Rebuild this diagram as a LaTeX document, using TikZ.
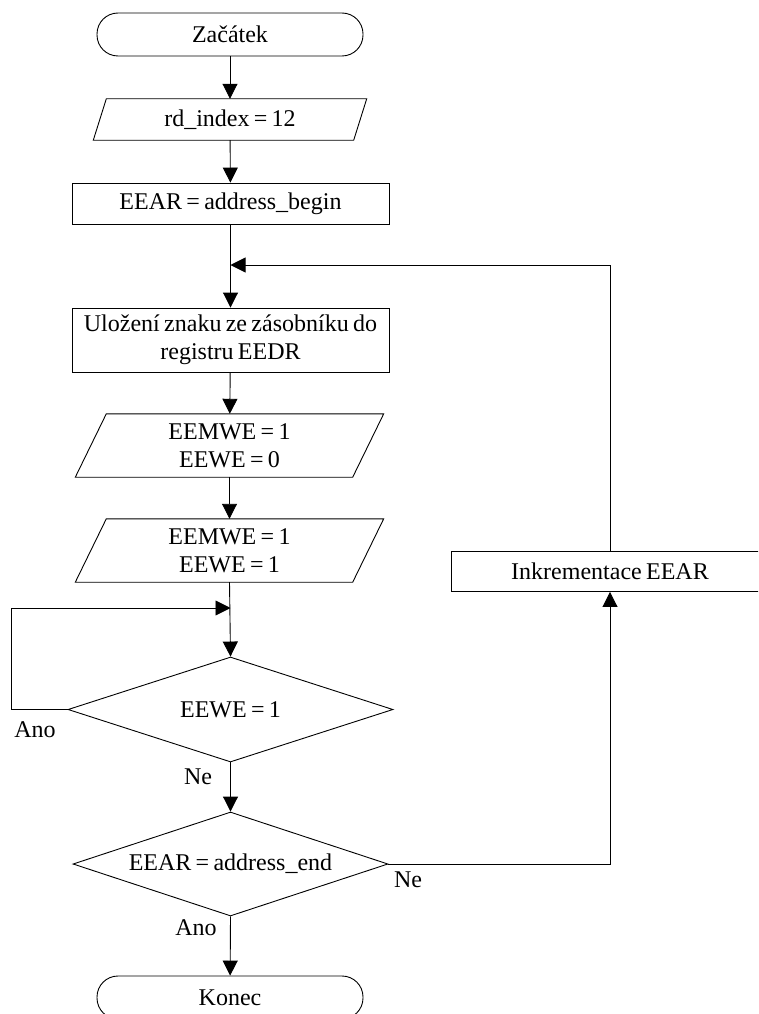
\documentclass[tikz,border=0pt]{standalone}
\usepackage{fontspec}
\setmainfont{Liberation Serif}
\usetikzlibrary{arrows.meta,calc,shapes.geometric}
\newcommand\flowfont{\fontsize{24}{28}\selectfont\spaceskip=0.18em plus 0.05em minus 0.02em\relax}
\begin{document}
\begin{tikzpicture}[x=1pt,y=-1pt,
  every node/.style={font=\flowfont, inner sep=0pt, align=center},
  line/.style={line width=0.9pt},
  arr/.style={line width=0.9pt,-{Triangle[length=15pt,width=15pt]}},
  term/.style={draw,line width=0.9pt,rounded corners=21pt,minimum width=266pt,minimum height=43pt},
  proc/.style={draw,line width=0.9pt,minimum width=317pt},
  dec/.style={draw,line width=0.9pt,shape=diamond,aspect=3}]
\useasboundingbox (0,0) rectangle (758,1014);
\clip (0,0) rectangle (758,1014);

% nodes
\node[term] (start) at (230,34.5) {Začátek};
\node[minimum width=260pt,minimum height=41pt] (rd) at (230,119.5) {rd\_index = 12};
\node[proc,minimum height=41pt] (eear) at (230.5,203.5) {EEAR = address\_begin};
\node[proc,minimum height=64pt] (ulo) at (230.5,340) {Uložení znaku ze zásobníku do\\registru EEDR};
\node[minimum width=277pt,minimum height=63pt] (p1) at (229.5,445.5) {EEMWE = 1\\EEWE = 0};
\node[minimum width=277pt,minimum height=63pt] (p2) at (229.5,550.5) {EEMWE = 1\\EEWE = 1};
\node[dec,minimum width=325pt,minimum height=105pt] (d1) at (230.5,709.5) {EEWE = 1};
\node[dec,minimum width=315pt,minimum height=104pt] (d2) at (230.5,864) {EEAR = address\_end};
\node[term] (end) at (230,997.5) {Konec};
\node[proc,minimum height=40pt] (ink) at (610,571.5) {Inkrementace EEAR};

% parallelogram outlines
\draw[line] ($(rd.south west)+(-6.5,0)$) -- ($(rd.north west)+(6.5,0)$) -- ($(rd.north east)+(6.5,0)$) -- ($(rd.south east)+(-6.5,0)$) -- cycle;
\draw[line] ($(p1.south west)+(-15.5,0)$) -- ($(p1.north west)+(15.5,0)$) -- ($(p1.north east)+(15.5,0)$) -- ($(p1.south east)+(-15.5,0)$) -- cycle;
\draw[line] ($(p2.south west)+(-15.5,0)$) -- ($(p2.north west)+(15.5,0)$) -- ($(p2.north east)+(15.5,0)$) -- ($(p2.south east)+(-15.5,0)$) -- cycle;

% labels
\node (ano1) at (35,730) {Ano};
\node (ne1) at (198,777) {Ne};
\node (ne2) at (408,880) {Ne};
\node (ano2) at (196,928) {Ano};

% helper coordinates
\coordinate (join) at (230.5,265);
\coordinate (lpl) at (11,608);
\coordinate (lpj) at (230.5,608);

% connectors
\draw[arr] (start) -- (rd);
\draw[arr] (rd) -- (eear);
\draw[arr] (eear) -- (ulo);
\draw[arr] (ink.north) |- (join);
\draw[arr] (ulo) -- (p1);
\draw[arr] (p1) -- (p2);
\draw[arr] (p2.south) -- (d1.north);
\draw[arr] (d1.west) -| (lpl) -- (lpj);
\draw[arr] (d1.south) -- (d2.north);
\draw[arr] (d2.south) -- (end);
\draw[arr] (d2.east) -| (ink.south);
\end{tikzpicture}
\end{document}
